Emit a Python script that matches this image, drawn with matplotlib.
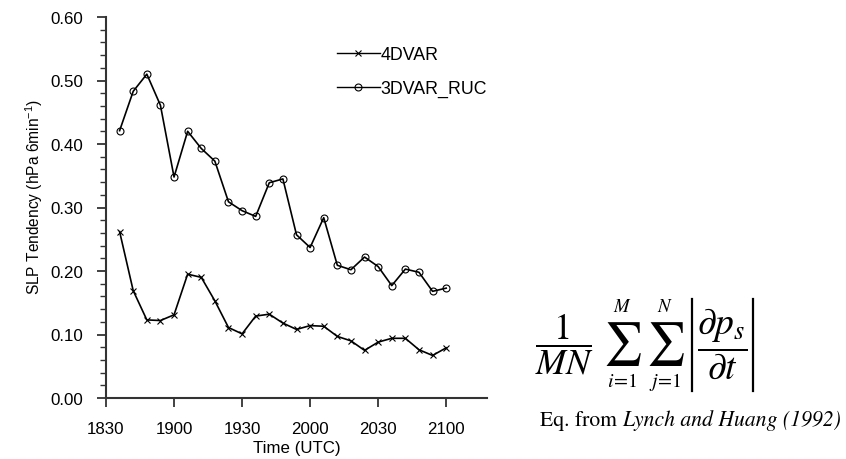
import matplotlib
matplotlib.use("Agg")
import matplotlib.pyplot as plt
from matplotlib.lines import Line2D
from matplotlib.ticker import MultipleLocator, FixedLocator, FormatStrFormatter

# ---- data ----
minutes = [6 * (k + 1) for k in range(25)]  # minutes after 1830 UTC: 1836 ... 2100
tick_minutes = [0, 30, 60, 90, 120, 150]
tick_labels = ["1830", "1900", "1930", "2000", "2030", "2100"]

fourdvar = [0.262, 0.169, 0.123, 0.122, 0.131, 0.195, 0.190, 0.153, 0.111, 0.101,
            0.129, 0.132, 0.118, 0.108, 0.114, 0.113, 0.097, 0.090, 0.075, 0.088,
            0.094, 0.094, 0.076, 0.067, 0.079]
threedvar_ruc = [0.421, 0.483, 0.510, 0.461, 0.348, 0.420, 0.393, 0.373, 0.309, 0.295,
                 0.286, 0.339, 0.345, 0.257, 0.237, 0.284, 0.209, 0.202, 0.222, 0.207,
                 0.177, 0.203, 0.198, 0.168, 0.173]

plt.rcParams["font.family"] = ["Liberation Sans", "DejaVu Sans"]
plt.rcParams["mathtext.fontset"] = "stix"

W, H = 846, 460
fig = plt.figure(figsize=(W / 100, H / 100), dpi=100)
ax = fig.add_axes([106 / W, 1 - 399 / H, (487 - 106) / W, (399 - 18) / H])

ax.plot(minutes, fourdvar, color="black", lw=1.2, marker="x", ms=5, mew=0.8,
        label="4DVAR")
ax.plot(minutes, threedvar_ruc, color="black", lw=1.2, marker="o", ms=5,
        mfc="none", mew=0.8, label="3DVAR_RUC")

ax.set_xlim(0, 168)
ax.set_ylim(0, 0.60)
ax.xaxis.set_major_locator(FixedLocator(tick_minutes))
ax.set_xticklabels(tick_labels)
ax.yaxis.set_major_locator(MultipleLocator(0.1))
ax.yaxis.set_minor_locator(MultipleLocator(0.02))
ax.yaxis.set_major_formatter(FormatStrFormatter("%.2f"))

for s in ["top", "right"]:
    ax.spines[s].set_visible(False)
for s in ["left", "bottom"]:
    ax.spines[s].set_linewidth(1.5)
    ax.spines[s].set_color("#333333")

ax.tick_params(axis="both", which="major", direction="out", length=6.7, width=1.3,
               color="#333333", labelsize=12.2, pad=10)
ax.tick_params(axis="y", which="minor", direction="out", length=4.3, width=1.0,
               color="#333333")

ax.set_xlabel("Time (UTC)", fontsize=12.2, labelpad=3)
ax.set_ylabel("SLP Tendency (hPa 6min$^{\\mathregular{-1}}$)", fontsize=11.2)
ax.yaxis.set_label_coords(-(106 - 44) / 381, (399 - 197) / 381)

leg = ax.legend(loc="upper left", bbox_to_anchor=((337 - 106) / 381, (399 - 47) / 381),
                frameon=False, fontsize=12.8, handlelength=2.4, handletextpad=0.05,
                labelspacing=0.95, borderpad=0, borderaxespad=0)
for h in leg.legend_handles:
    h.set_linewidth(1.0)


# ---- equation, built from pieces (pixel positions) ----
def ptext(x, y, s, size, **kw):
    return fig.text(x / W, 1 - y / H, s, fontsize=size, ha="center", va="center", **kw)


ptext(565, 344, r"$\dfrac{1}{MN}$", 26)
for cx, top, bot in [(622, "M", "i"), (665, "N", "j")]:
    ptext(cx, 344, r"$\sum$", 31)
    ptext(cx, 307, "$" + top + "$", 13.5)
    ptext(cx, 382, "$" + bot + r"\!=\!1$", 14.5)
ptext(722, 344, r"$\dfrac{\partial p_s}{\partial t}$", 27)
for bx in (692, 753):
    fig.add_artist(Line2D([bx / W, bx / W], [1 - 300 / H, 1 - 392 / H],
                          transform=fig.transFigure, color="black", lw=1.6))

renderer = fig.canvas.get_renderer()
t1 = fig.text(540 / W, 1 - 421 / H, "Eq. from ", fontsize=15.6, family="STIXGeneral",
              ha="left", va="center")
bb = t1.get_window_extent(renderer)
fig.text(bb.x1 / W, 1 - 421 / H, "Lynch and Huang (1992)", fontsize=15.6,
         family="STIXGeneral", style="italic", ha="left", va="center")

fig.savefig("out.png", dpi=100)
